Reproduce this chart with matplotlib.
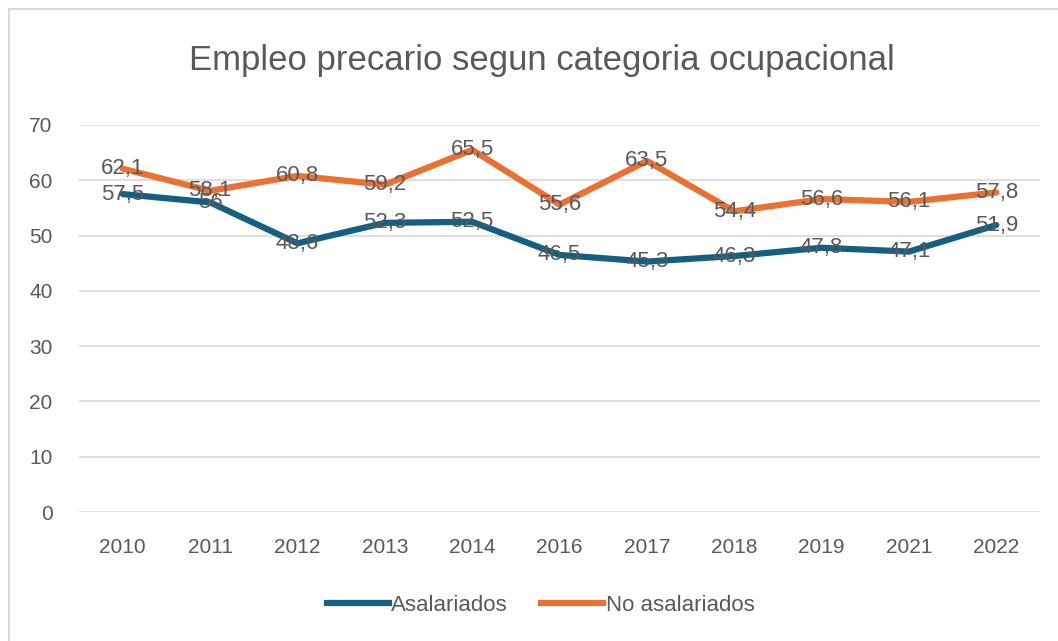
import matplotlib
matplotlib.use("Agg")
import matplotlib.pyplot as plt
from matplotlib.lines import Line2D

# Dane
years = ["2010", "2011", "2012", "2013", "2014", "2016", "2017", "2018", "2019", "2021", "2022"]
asalariados = [57.5, 56, 48.6, 52.3, 52.5, 46.5, 45.3, 46.3, 47.8, 47.1, 51.9]
no_asalariados = [62.1, 58.1, 60.8, 59.2, 65.5, 55.6, 63.5, 54.4, 56.6, 56.1, 57.8]
y_ticks = [0, 10, 20, 30, 40, 50, 60, 70]

blue = "#156082"
orange = "#E97132"
gray = "#595959"
narrow = ["Liberation Sans Narrow", "Liberation Sans", "DejaVu Sans"]


def fmt(v):
    s = f"{v:g}"
    return s.replace(".", ",")


fig = plt.figure(figsize=(10.58, 6.41), dpi=100)
ax = fig.add_axes([0.0747, 0.2012, 0.9083, 0.6038])

x = list(range(len(years)))
ax.plot(x, asalariados, color=blue, lw=4.5, solid_capstyle="round", solid_joinstyle="round", zorder=3)
ax.plot(x, no_asalariados, color=orange, lw=4.5, solid_capstyle="round", solid_joinstyle="round", zorder=3)

for xi, v in zip(x, asalariados):
    ax.text(xi, v, fmt(v), ha="center", va="center", fontsize=16, color=gray,
            family="Liberation Sans", zorder=4)
for xi, v in zip(x, no_asalariados):
    ax.text(xi, v, fmt(v), ha="center", va="center", fontsize=16, color=gray,
            family="Liberation Sans", zorder=4)

ax.set_xlim(-0.5, len(years) - 0.5)
ax.set_ylim(0, 70)
ax.set_yticks(y_ticks)
ax.set_xticks(x)
ax.set_xticklabels(years)
ax.grid(axis="y", color="#D9D9D9", lw=1.2)
ax.set_axisbelow(True)
for s in ax.spines.values():
    s.set_visible(False)
ax.tick_params(length=0, labelsize=15, labelcolor=gray)
ax.tick_params(axis="x", pad=19)
ax.tick_params(axis="y", pad=19)
for lab in ax.get_xticklabels() + ax.get_yticklabels():
    lab.set_family("Liberation Sans")

fig.text(0.512, 0.905, "Empleo precario segun categoria ocupacional", ha="center", va="center",
         fontsize=25, color=gray, family=narrow)

handles = [Line2D([], [], color=blue, lw=4.5), Line2D([], [], color=orange, lw=4.5)]
leg = fig.legend(handles, ["Asalariados", "No asalariados"], loc="center", bbox_to_anchor=(0.511, 0.055),
                 ncol=2, frameon=False, handlelength=2.8, handletextpad=0.1, columnspacing=1.5,
                 prop={"family": narrow, "size": 16})
for t in leg.get_texts():
    t.set_color(gray)

# Ramka wykresu (lewa i górna krawędź)
fig.add_artist(Line2D([0.0085, 0.0085], [0, 1 - 9 / 641], color="#D9D9D9", lw=1.5, transform=fig.transFigure))
fig.add_artist(Line2D([0.0085, 1], [1 - 9 / 641, 1 - 9 / 641], color="#D9D9D9", lw=1.5, transform=fig.transFigure))

fig.savefig("out.png", dpi=100)
